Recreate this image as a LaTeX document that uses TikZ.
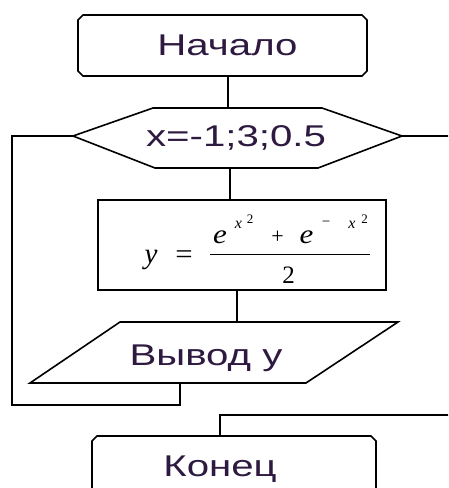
\documentclass[tikz,border=0pt]{standalone}
\usepackage{fontspec}
\setmainfont{Liberation Sans}
\newfontfamily\tms{Liberation Serif}
\definecolor{txt}{HTML}{2E1A40}
\newcommand\wide[1]{\scalebox{1.34}[1]{#1}}
\begin{document}
\begin{tikzpicture}[x=1pt,y=-1pt,line width=1.6pt,line join=miter]
\tikzset{
  lbl/.style={font=\fontsize{30}{30}\selectfont,text=txt,inner sep=0pt,anchor=base},
  fm/.style={font=\tms\itshape\fontsize{27}{27}\selectfont,inner sep=0pt,anchor=base},
  fmr/.style={font=\tms\fontsize{25}{25}\selectfont,inner sep=0pt,anchor=base},
  fs/.style={font=\tms\itshape\fontsize{16}{16}\selectfont,inner sep=0pt,anchor=base},
  fsr/.style={font=\tms\fontsize{13}{13}\selectfont,inner sep=0pt,anchor=base},
  shp/.style={draw=black,line width=1.6pt},
  conn/.style={draw=black,line width=1.6pt}
}
\useasboundingbox (0,0) rectangle (448,488);
\clip (0,0) rectangle (448,488);
\fill[white] (0,0) rectangle (448,488);

% shapes
\draw[shp] (83,15) -- (362,15) -- (367,20) -- (367,71) -- (362,76) -- (83,76) -- (78,71) -- (78,20) -- cycle;
\draw[shp] (153,108) -- (322,108) -- (402,136) -- (318,168) -- (155,168) -- (73,136) -- cycle;
\draw[shp] (98,200) rectangle (386,290);
\draw[shp] (120,322) -- (398,322) -- (306,383) -- (30,383) -- cycle;
\draw[shp] (97,436) -- (371,436) -- (376,441) -- (376,500) -- (92,500) -- (92,441) -- cycle;

% connection points
\coordinate (startB) at (228,76);
\coordinate (hexT) at (228,108);
\coordinate (hexB) at (230,168);
\coordinate (boxT) at (230,200);
\coordinate (boxB) at (237,290);
\coordinate (parT) at (237,322);
\coordinate (parB) at (180,383);
\coordinate (loopA) at (180,405);
\coordinate (loopB) at (12,405);
\coordinate (loopC) at (12,136);
\coordinate (hexL) at (73,136);
\coordinate (hexR) at (402,136);
\coordinate (exitR) at (450,136);
\coordinate (inR) at (450,415);
\coordinate (inA) at (220,415);
\coordinate (endT) at (220,436);

\draw[conn] (startB) -- (hexT);
\draw[conn] (hexB) -- (boxT);
\draw[conn] (boxB) -- (parT);
\draw[conn] (parB) -- (loopA) -- (loopB) -- (loopC) -- (hexL);
\draw[conn] (hexR) -- (exitR);
\draw[conn] (inR) -- (inA) -- (endT);

% labels
\node[lbl] (tStart) at (227.5,55) {\wide{Начало}};
\node[lbl] (tLoop) at (236,146) {\wide{x=-1;3;0.5}};
\node[lbl] (tOut) at (206,365) {\wide{Вывод у}};
\node[lbl] (tEnd) at (220,476) {\wide{Конец}};

% formula
\node[fm,font=\tms\itshape\fontsize{29}{29}\selectfont] (fy) at (151,263) {y};
\node[fmr,font=\tms\fontsize{28}{28}\selectfont] (feq) at (184,263) {\scalebox{1.1}[1]{=}};
\coordinate (barL) at (210,254);
\coordinate (barR) at (370,254);
\draw[line width=1pt] (barL) -- (barR);
\node[fm] (fe1) at (220,243) {\scalebox{1.15}[1]{e}};
\node[fs] (fx1) at (238.5,228) {x};
\node[fsr] (f21) at (250,223) {2};
\node[fmr,font=\tms\fontsize{22}{22}\selectfont] (fplus) at (277.5,243) {+};
\node[fm] (fe2) at (306.5,243) {\scalebox{1.15}[1]{e}};
\node[fsr,font=\tms\fontsize{15}{15}\selectfont] (fminus) at (326,226) {−};
\node[fs] (fx2) at (352,228) {x};
\node[fsr] (f22) at (364.5,223) {2};
\node[fmr] (fden) at (288.5,283) {2};
\end{tikzpicture}
\end{document}
